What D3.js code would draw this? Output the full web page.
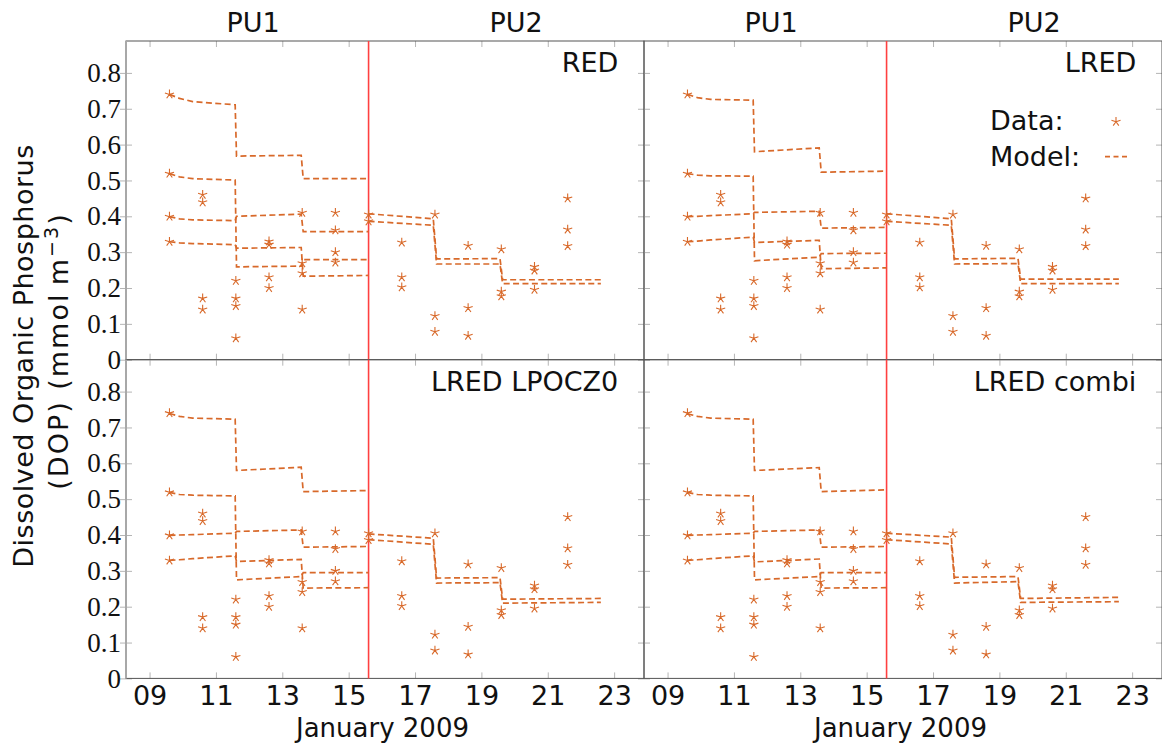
<!DOCTYPE html>
<html>
<head>
<meta charset="utf-8">
<script src="https://cdn.jsdelivr.net/npm/d3@7"></script>
<style>
  body { margin: 0; background: #fff; }
  svg { display: block; }
</style>
</head>
<body>
<svg id="chart"></svg>
<script>
// DOP observations vs model, four model runs (2x2 panels)

const panelNames = ["RED", "LRED", "LRED LPOCZ0", "LRED combi"];
const cruiseNames = ["PU1", "PU2"];
const dayTicks = [9, 11, 13, 15, 17, 19, 21, 23];
const dopTicks = [0, 0.1, 0.2, 0.3, 0.4, 0.5, 0.6, 0.7, 0.8];
const cruiseSplit = 15.6;

// observations (day of January 2009, mmol m-3)
const obsDay = [
  9.6, 9.6, 9.6, 9.6,
  10.6, 10.6, 10.6, 10.6,
  11.6, 11.6, 11.6, 11.6,
  12.6, 12.6, 12.6, 12.6,
  13.6, 13.6, 13.6, 13.6,
  14.6, 14.6, 14.6, 14.6,
  15.6, 15.6,
  16.6, 16.6, 16.6,
  17.6, 17.6, 17.6,
  18.6, 18.6, 18.6,
  19.6, 19.6, 19.6,
  20.6, 20.6, 20.6,
  21.6, 21.6, 21.6
];
const obsDOP = [
  0.740, 0.519, 0.399, 0.329,
  0.460, 0.439, 0.171, 0.140,
  0.220, 0.171, 0.150, 0.060,
  0.330, 0.321, 0.230, 0.200,
  0.410, 0.269, 0.241, 0.140,
  0.410, 0.361, 0.300, 0.271,
  0.405, 0.386,
  0.327, 0.230, 0.202,
  0.405, 0.122, 0.078,
  0.318, 0.144, 0.067,
  0.308, 0.190, 0.177,
  0.259, 0.249, 0.195,
  0.450, 0.363, 0.317
];

// model output, one line per depth
const pu1Day = [9.6, 9.9, 10.3, 11.58, 11.62, 13.57, 13.63, 15.6];
const pu2Day = [15.6, 17.55, 17.65, 19.56, 19.64, 22.6];

const redPU1 = [
  [0.740, 0.729, 0.720, 0.711, 0.568, 0.570, 0.505, 0.505],
  [0.519, 0.510, 0.505, 0.501, 0.259, 0.261, 0.279, 0.279],
  [0.399, 0.393, 0.390, 0.388, 0.400, 0.406, 0.357, 0.357],
  [0.329, 0.326, 0.324, 0.321, 0.311, 0.313, 0.233, 0.235]
];
const redPU2 = [
  [0.407, 0.393, 0.281, 0.282, 0.223, 0.223],
  [0.386, 0.375, 0.267, 0.267, 0.212, 0.212]
];
const lredPU1 = [
  [0.740, 0.731, 0.726, 0.724, 0.580, 0.591, 0.523, 0.526],
  [0.519, 0.515, 0.513, 0.512, 0.276, 0.286, 0.296, 0.297],
  [0.399, 0.400, 0.402, 0.407, 0.411, 0.414, 0.367, 0.369],
  [0.329, 0.331, 0.334, 0.342, 0.327, 0.333, 0.254, 0.256]
];
const lredPU2 = [
  [0.407, 0.393, 0.281, 0.283, 0.225, 0.225],
  [0.386, 0.375, 0.267, 0.268, 0.212, 0.212]
];
const lpoczPU1 = [
  [0.739, 0.731, 0.726, 0.723, 0.580, 0.589, 0.521, 0.524],
  [0.519, 0.513, 0.511, 0.509, 0.275, 0.284, 0.295, 0.295],
  [0.399, 0.400, 0.401, 0.405, 0.410, 0.414, 0.366, 0.368],
  [0.329, 0.331, 0.334, 0.342, 0.326, 0.332, 0.252, 0.253]
];
const lpoczPU2 = [
  [0.403, 0.391, 0.280, 0.281, 0.221, 0.223],
  [0.387, 0.374, 0.266, 0.267, 0.210, 0.212]
];
const combiPU1 = [
  [0.738, 0.731, 0.726, 0.723, 0.580, 0.588, 0.521, 0.526],
  [0.519, 0.513, 0.511, 0.509, 0.275, 0.284, 0.295, 0.295],
  [0.399, 0.400, 0.401, 0.405, 0.410, 0.414, 0.366, 0.368],
  [0.329, 0.331, 0.334, 0.342, 0.325, 0.333, 0.252, 0.253]
];
const combiPU2 = [
  [0.405, 0.394, 0.282, 0.284, 0.223, 0.226],
  [0.387, 0.375, 0.266, 0.270, 0.212, 0.214]
];

const modelPU1 = [redPU1, lredPU1, lpoczPU1, combiPU1];
const modelPU2 = [redPU2, lredPU2, lpoczPU2, combiPU2];

// layout
let width = 1162;
let height = 745;
let padLeft = 126;
let padTop = 41;
let pw = 518;
let ph = 318.7;
let orange = '#d8692a';
let sans = 'DejaVu Sans';
let serif = "'Liberation Serif', 'Times New Roman', 'DejaVu Serif', serif";

let svg = d3.select('#chart')
  .attr('width', width)
  .attr('height', height);

let x = d3.scaleLinear().domain([8.29, 23.9]).range([0, pw]);
let y = d3.scaleLinear().domain([0, 0.889]).range([ph, 0]);

let line = d3.line()
  .x(d => x(d[0]))
  .y(d => y(d[1]));

// 5-spoke star marker
function star(r) {
  let p = '';
  for (let k = 0; k < 5; k++) {
    let a = (-90 + 72 * k) * Math.PI / 180;
    p += 'M0,0L' + (r * Math.cos(a)).toFixed(2) + ',' + (r * Math.sin(a)).toFixed(2);
  }
  return p;
}

function styleTicks(g) {
  g.select('.domain').remove();
  g.selectAll('.tick line').attr('stroke', '#b5b5b5').attr('stroke-width', 1);
}

panelNames.forEach((name, i) => {
  let col = i % 2;
  let row = Math.floor(i / 2);
  let g = svg.append('g')
    .attr('transform', 'translate(' + (padLeft + col * pw) + ',' + (padTop + row * ph) + ')');

  // inward ticks on all four sides
  g.append('g').call(d3.axisLeft(y).tickValues(dopTicks).tickSize(-6).tickFormat('')).call(styleTicks);
  g.append('g').attr('transform', 'translate(' + pw + ',0)')
    .call(d3.axisRight(y).tickValues(dopTicks).tickSize(-6).tickFormat('')).call(styleTicks);
  g.append('g').call(d3.axisTop(x).tickValues(dayTicks).tickSize(-6).tickFormat('')).call(styleTicks);
  g.append('g').attr('transform', 'translate(0,' + ph + ')')
    .call(d3.axisBottom(x).tickValues(dayTicks).tickSize(-6).tickFormat('')).call(styleTicks);

  // y labels on left column
  if (col === 0) {
    let ya = g.append('g')
      .call(d3.axisLeft(y).tickValues(dopTicks).tickSize(6).tickPadding(-1)
        .tickFormat(d => d === 0 ? '0' : d3.format('.1f')(d)))
      .call(styleTicks);
    ya.attr('font-family', null);
    ya.selectAll('text')
      .style('font-family', serif)
      .style('font-size', '27px')
      .attr('fill', '#111');
  }

  // x labels on bottom row
  if (row === 1) {
    let xa = g.append('g')
      .attr('transform', 'translate(0,' + ph + ')')
      .call(d3.axisBottom(x).tickValues(dayTicks).tickSize(0).tickPadding(7)
        .tickFormat(d3.format('02d')))
      .call(g2 => g2.select('.domain').remove());
    xa.selectAll('text')
      .attr('font-family', sans)
      .attr('font-size', 27)
      .attr('fill', '#111');

    g.append('text')
      .attr('x', 256.5)
      .attr('y', ph + 58.5)
      .attr('text-anchor', 'middle')
      .attr('font-family', sans)
      .attr('font-size', 26)
      .attr('fill', '#111')
      .text('January 2009');
  }

  // cruise titles on top row
  if (row === 0) {
    [127, 390].forEach((cx, k) => {
      g.append('text')
        .attr('x', cx)
        .attr('y', -8.7)
        .attr('text-anchor', 'middle')
        .attr('font-family', sans)
        .attr('font-size', 27)
        .attr('fill', '#111')
        .text(cruiseNames[k]);
    });
  }

  // frame
  g.append('rect')
    .attr('width', pw)
    .attr('height', ph)
    .attr('fill', 'none')
    .attr('stroke', '#555')
    .attr('stroke-width', 1);
  if (col === 0) {
    g.append('line')
      .attr('x1', 0).attr('x2', 0)
      .attr('y1', 0).attr('y2', ph)
      .attr('stroke', '#a8a8a8')
      .attr('stroke-width', 2);
  }

  // cruise boundary
  g.append('line')
    .attr('x1', x(cruiseSplit)).attr('x2', x(cruiseSplit))
    .attr('y1', 0).attr('y2', ph)
    .attr('stroke', '#ff4040')
    .attr('stroke-width', 1.6);

  // model lines
  let series = modelPU1[i].map(v => pu1Day.map((d, j) => [d, v[j]]))
    .concat(modelPU2[i].map(v => pu2Day.map((d, j) => [d, v[j]])));
  g.selectAll('path.model')
    .data(series)
    .enter()
    .append('path')
    .attr('class', 'model')
    .attr('d', line)
    .attr('fill', 'none')
    .attr('stroke', orange)
    .attr('stroke-width', 1.7)
    .attr('stroke-dasharray', '6,3.4');

  // observations
  g.selectAll('path.obs')
    .data(obsDay.map((d, j) => [d, obsDOP[j]]))
    .enter()
    .append('path')
    .attr('class', 'obs')
    .attr('transform', d => 'translate(' + x(d[0]) + ',' + y(d[1]) + ')')
    .attr('d', star(4.8))
    .attr('fill', 'none')
    .attr('stroke', orange)
    .attr('stroke-width', 1.1);

  // panel name
  g.append('text')
    .attr('x', pw - 25.7)
    .attr('y', 31)
    .attr('text-anchor', 'end')
    .attr('font-family', sans)
    .attr('font-size', 27)
    .attr('fill', '#111')
    .text(name);

  // legend in LRED panel
  if (i === 1) {
    g.append('text')
      .attr('x', 346).attr('y', 89)
      .attr('font-family', sans).attr('font-size', 27).attr('fill', '#111')
      .text('Data:');
    g.append('text')
      .attr('x', 346).attr('y', 125)
      .attr('font-family', sans).attr('font-size', 27).attr('fill', '#111')
      .text('Model:');
    g.append('path')
      .attr('transform', 'translate(472,80.7)')
      .attr('d', star(4.8))
      .attr('fill', 'none')
      .attr('stroke', orange)
      .attr('stroke-width', 1.1);
    g.append('line')
      .attr('x1', 461).attr('x2', 483)
      .attr('y1', 115.7).attr('y2', 115.7)
      .attr('stroke', orange)
      .attr('stroke-width', 1.7)
      .attr('stroke-dasharray', '5,3.5');
  }
});

// y axis title, two lines
svg.append('text')
  .attr('transform', 'translate(33.3,356) rotate(-90)')
  .attr('text-anchor', 'middle')
  .attr('font-family', sans)
  .attr('font-size', 27)
  .attr('letter-spacing', 0.5)
  .attr('fill', '#111')
  .text('Dissolved Organic Phosphorus');

let yt2 = svg.append('text')
  .attr('transform', 'translate(68,351) rotate(-90)')
  .attr('text-anchor', 'middle')
  .attr('font-family', sans)
  .attr('font-size', 27)
  .attr('letter-spacing', 2)
  .attr('fill', '#111');
yt2.append('tspan').text('(DOP) (mmol\u2009m');
yt2.append('tspan').attr('dy', -10).attr('font-size', 19).text('\u22123');
yt2.append('tspan').attr('dy', 10).text(')');
</script>
</body>
</html>
